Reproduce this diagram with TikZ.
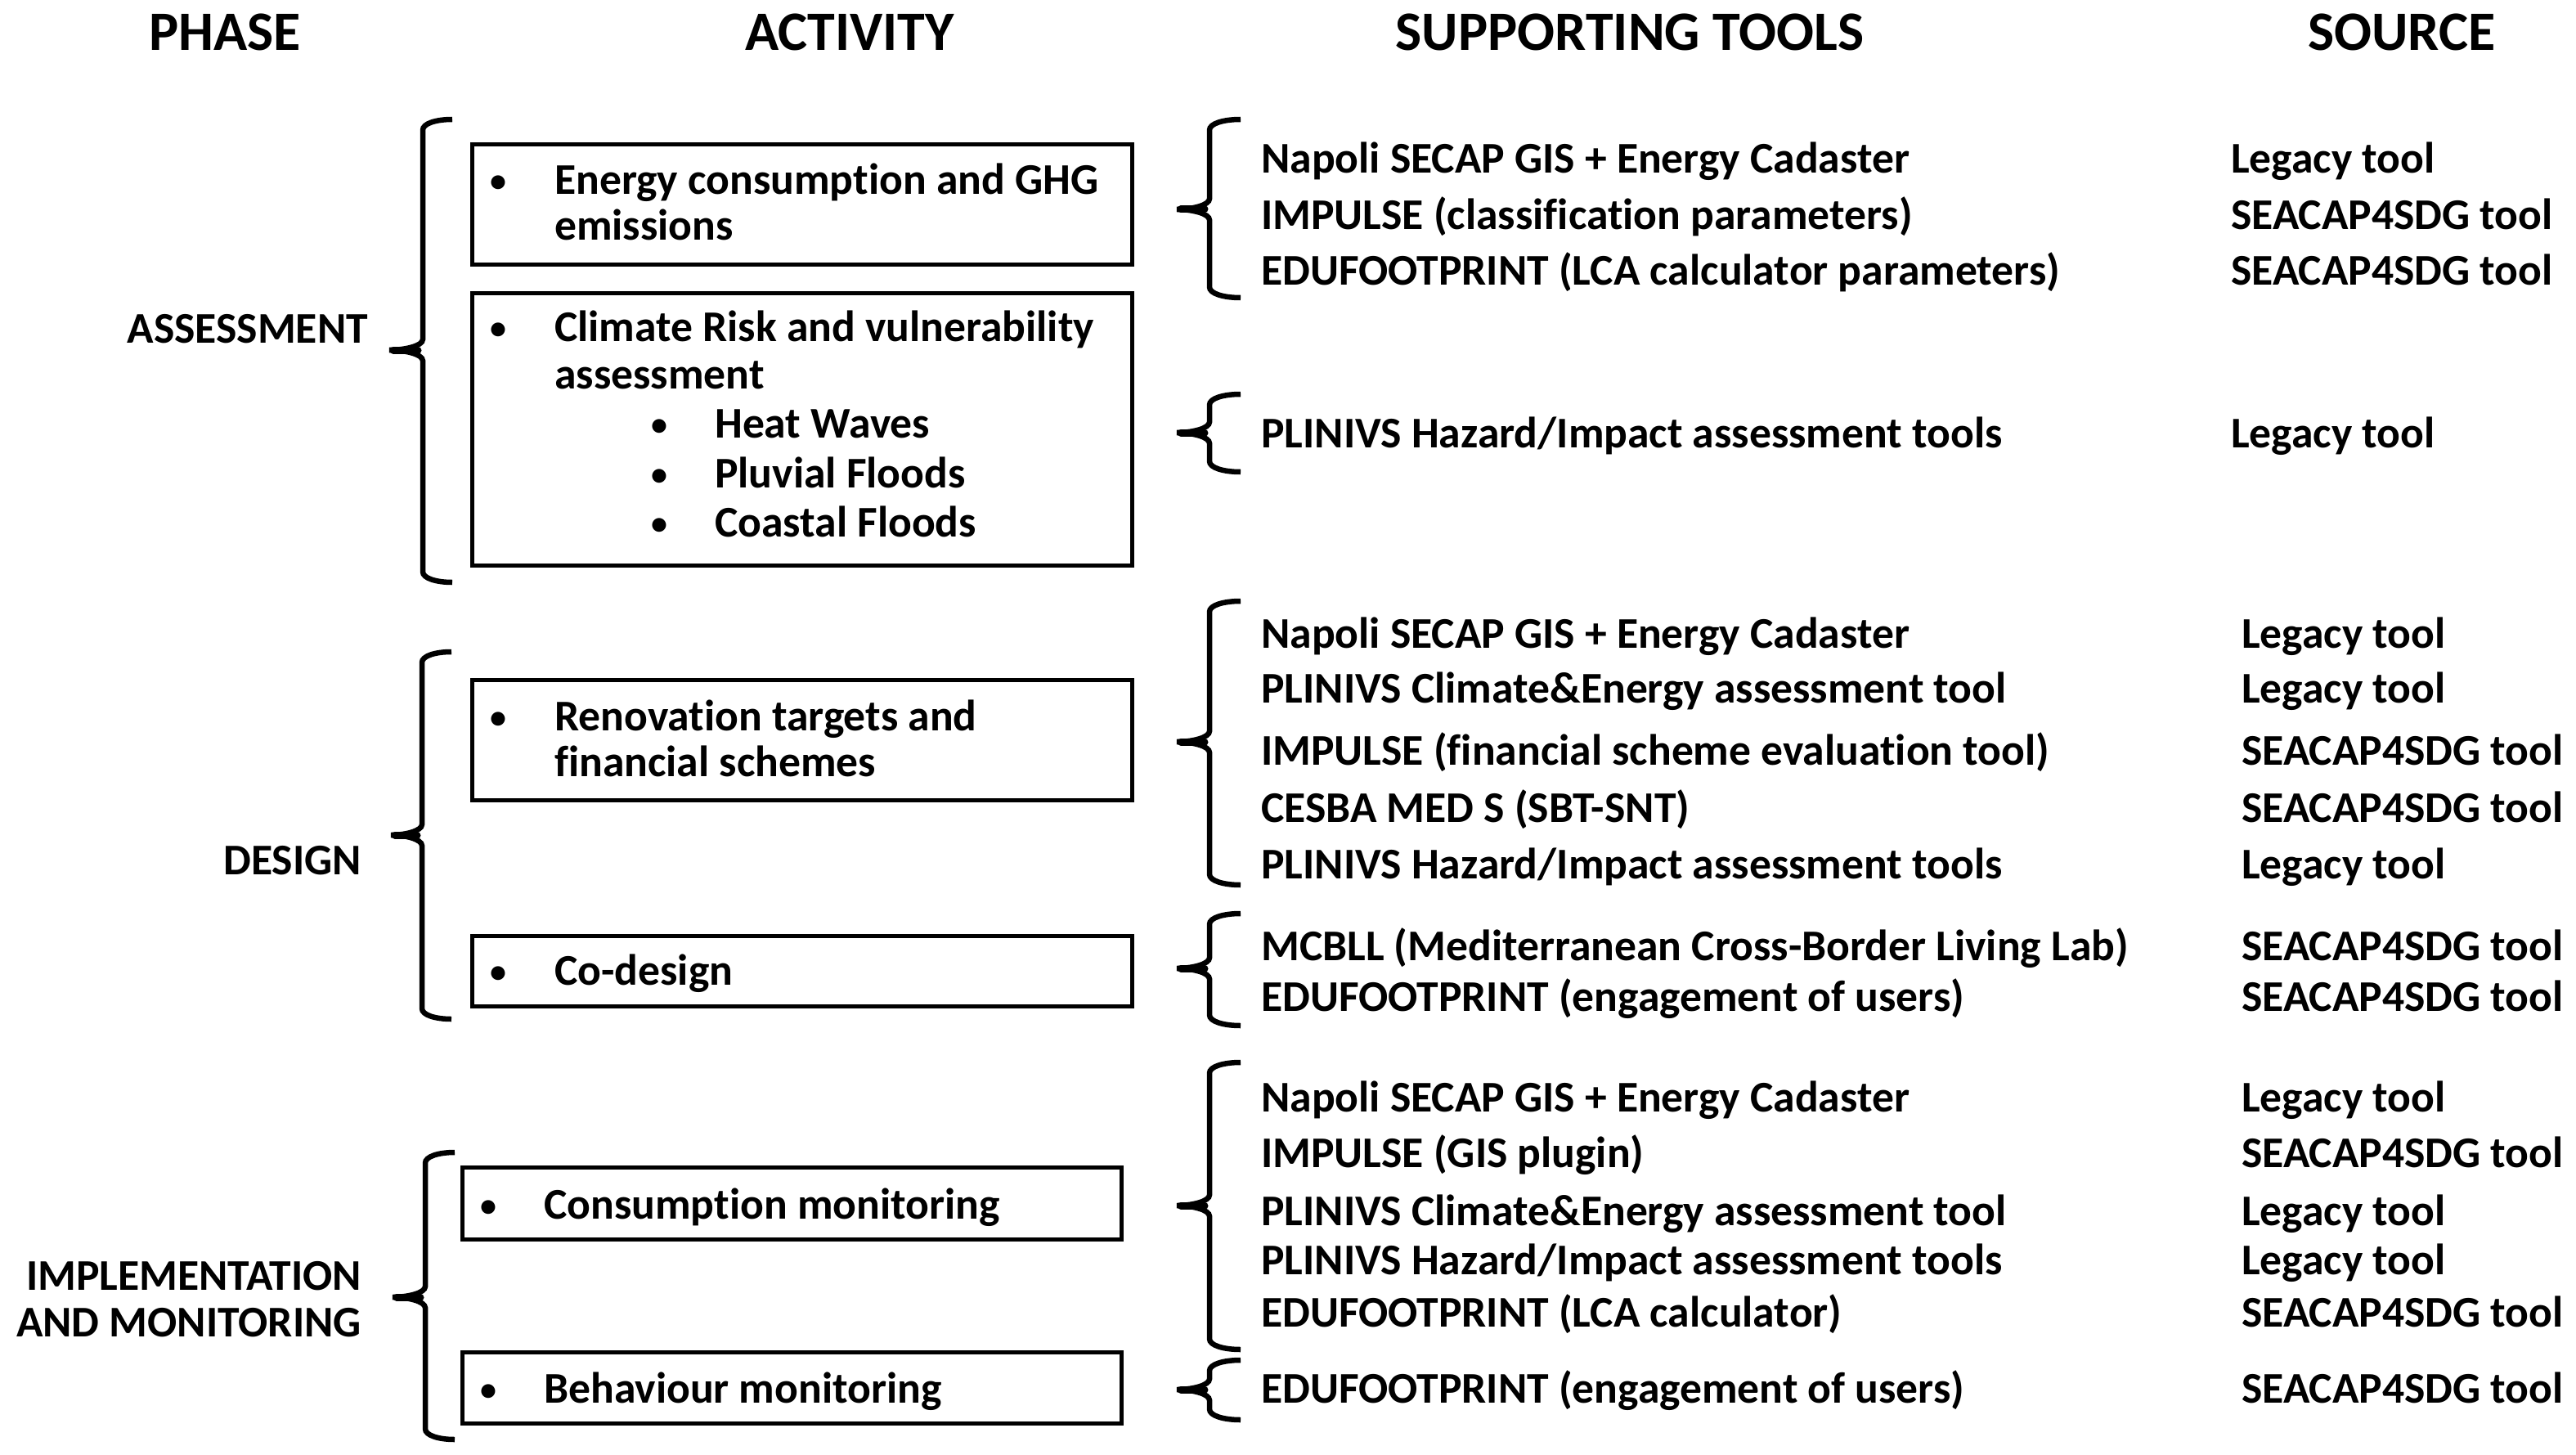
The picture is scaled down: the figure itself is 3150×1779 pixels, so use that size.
\documentclass[tikz,border=0pt]{standalone}
\usepackage{fontspec}
\setmainfont{Carlito}[Ligatures={NoCommon}]
\newcommand\mybrace[6]{% #1 line x, #2 hook x, #3 tip x, #4 top, #5 mid, #6 bot
  \draw[brc] (#2,#4) .. controls ({#1+0.45*(#2-#1)},#4) and (#1,#4+5) .. (#1,#4+13)
    -- (#1,#5-13) .. controls (#1,#5-5) and ({#3+0.45*(#1-#3)},#5) .. (#3,#5)
    .. controls ({#3+0.45*(#1-#3)},#5) and (#1,#5+5) .. (#1,#5+13)
    -- (#1,#6-13) .. controls (#1,#6-5) and ({#1+0.45*(#2-#1)},#6) .. (#2,#6);
  \draw[tipstub] (#1-6,#5) -- (#3+5,#5);
}
\tikzset{
  hdr/.style={font=\fontsize{68}{80}\selectfont\bfseries, inner sep=0, anchor=base},
  txt/.style={font=\fontsize{53.6}{64}\selectfont\bfseries, inner sep=0, anchor=base west},
  phs/.style={font=\fontsize{53.6}{64}\selectfont\bfseries, inner sep=0, anchor=base east},
  bul/.style={font=\fontsize{40}{48}\selectfont\bfseries, inner sep=0, anchor=base},
  actbox/.style={draw, line width=5pt, inner sep=0, minimum width=807pt},
  brc/.style={line width=6.5pt},
  tipstub/.style={line width=9pt, line cap=round},
}
\begin{document}
\begin{tikzpicture}[x=1pt,y=-1pt]
\useasboundingbox[fill=white] (0,0) rectangle (3150,1779);

% headers
\node[hdr] (hphase) at (275,62) {PHASE};
\node[hdr] (hact) at (1039,62) {ACTIVITY};
\node[hdr] (htools) at (1993,62) {SUPPORTING TOOLS};
\node[hdr] (hsrc) at (2937,62) {SOURCE};

% phase labels
\node[phs] (passess) at (450,419) {ASSESSMENT};
\node[phs] (pdesign) at (442,1069) {DESIGN};
\node[phs] (pimpl1) at (442,1577) {IMPLEMENTATION};
\node[phs] (pimpl2) at (442,1634) {AND MONITORING};

% phase braces
\mybrace{517}{553}{476}{146}{428}{712}
\mybrace{516}{552}{478}{797}{1021}{1246}
\mybrace{520}{556}{480}{1409}{1586}{1760}

% activity boxes
\node[actbox, minimum height=146pt] (b1) at (980.5,250) {};
\node[actbox, minimum height=333pt] (b2) at (980.5,524.5) {};
\node[actbox, minimum height=147pt] (b3) at (980.5,904.5) {};
\node[actbox, minimum height=86pt] (b4) at (980.5,1187) {};
\node[actbox, minimum width=806pt, minimum height=88pt] (b5) at (968,1471) {};
\node[actbox, minimum width=806pt, minimum height=87pt] (b6) at (968,1696.5) {};

% activity texts
\node[bul] (u1) at (609,235) {•};
\node[txt] (a1a) at (678,238) {Energy consumption and GHG};
\node[txt] (a1b) at (678,294) {emissions};
\node[bul] (u2) at (609,414) {•};
\node[txt] (a2a) at (678,417) {Climate Risk and vulnerability};
\node[txt] (a2b) at (678,475) {assessment};
\node[bul] (u2a) at (806,532) {•};
\node[txt] (a2c) at (874,535) {Heat Waves};
\node[bul] (u2b) at (806,593) {•};
\node[txt] (a2d) at (874,596) {Pluvial Floods};
\node[bul] (u2c) at (806,653) {•};
\node[txt] (a2e) at (874,656) {Coastal Floods};
\node[bul] (u3) at (609,890) {•};
\node[txt] (a3a) at (678,893) {Renovation targets and};
\node[txt] (a3b) at (678,949) {financial schemes};
\node[bul] (u4) at (609,1201) {•};
\node[txt] (a4) at (678,1204) {Co-design};
\node[bul] (u5) at (597,1487) {•};
\node[txt] (a5) at (665,1490) {Consumption monitoring};
\node[bul] (u6) at (597,1712) {•};
\node[txt] (a6) at (665,1715) {Behaviour monitoring};

% tool braces
\mybrace{1479}{1517}{1439}{146}{256}{364}
\mybrace{1479}{1517}{1439}{482}{529}{577}
\mybrace{1479}{1517}{1439}{735}{907}{1082}
\mybrace{1479}{1517}{1439}{1117}{1184}{1254}
\mybrace{1479}{1517}{1439}{1299}{1474}{1650}
\mybrace{1479}{1517}{1439}{1663}{1699}{1736}

% tools and sources
\node[txt] (t1) at (1542,212) {Napoli SECAP GIS + Energy Cadaster};
\node[txt] (s1) at (2728,212) {Legacy tool};
\node[txt] (t2) at (1542,280) {IMPULSE (classification parameters)};
\node[txt] (s2) at (2728,280) {SEACAP4SDG tool};
\node[txt] (t3) at (1542,348) {EDUFOOTPRINT (LCA calculator parameters)};
\node[txt] (s3) at (2728,348) {SEACAP4SDG tool};

\node[txt] (t4) at (1542,547) {PLINIVS Hazard/Impact assessment tools};
\node[txt] (s4) at (2728,547) {Legacy tool};

\node[txt] (t5) at (1542,792) {Napoli SECAP GIS + Energy Cadaster};
\node[txt] (s5) at (2741,792) {Legacy tool};
\node[txt] (t6) at (1542,859) {PLINIVS Climate\&Energy assessment tool};
\node[txt] (s6) at (2741,859) {Legacy tool};
\node[txt] (t7) at (1542,935) {IMPULSE (financial scheme evaluation tool)};
\node[txt] (s7) at (2741,935) {SEACAP4SDG tool};
\node[txt] (t8) at (1542,1005) {CESBA MED S (SBT-SNT)};
\node[txt] (s8) at (2741,1005) {SEACAP4SDG tool};
\node[txt] (t9) at (1542,1074) {PLINIVS Hazard/Impact assessment tools};
\node[txt] (s9) at (2741,1074) {Legacy tool};

\node[txt] (t10) at (1542,1174) {MCBLL (Mediterranean Cross-Border Living Lab)};
\node[txt] (s10) at (2741,1174) {SEACAP4SDG tool};
\node[txt] (t11) at (1542,1236) {EDUFOOTPRINT (engagement of users)};
\node[txt] (s11) at (2741,1236) {SEACAP4SDG tool};

\node[txt] (t12) at (1542,1359) {Napoli SECAP GIS + Energy Cadaster};
\node[txt] (s12) at (2741,1359) {Legacy tool};
\node[txt] (t13) at (1542,1427) {IMPULSE (GIS plugin)};
\node[txt] (s13) at (2741,1427) {SEACAP4SDG tool};
\node[txt] (t14) at (1542,1498) {PLINIVS Climate\&Energy assessment tool};
\node[txt] (s14) at (2741,1498) {Legacy tool};
\node[txt] (t15) at (1542,1558) {PLINIVS Hazard/Impact assessment tools};
\node[txt] (s15) at (2741,1558) {Legacy tool};
\node[txt] (t16) at (1542,1622) {EDUFOOTPRINT (LCA calculator)};
\node[txt] (s16) at (2741,1622) {SEACAP4SDG tool};

\node[txt] (t17) at (1542,1715) {EDUFOOTPRINT (engagement of users)};
\node[txt] (s17) at (2741,1715) {SEACAP4SDG tool};
\end{tikzpicture}
\end{document}
